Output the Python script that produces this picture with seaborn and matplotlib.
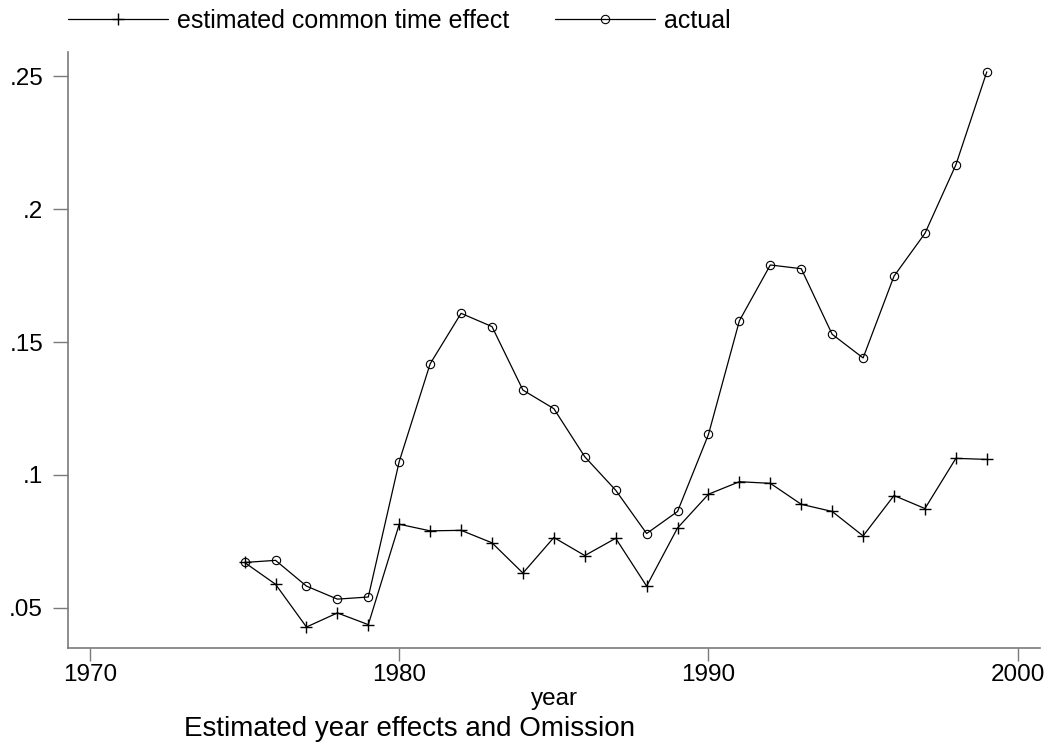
import matplotlib
matplotlib.use("Agg")
import matplotlib.pyplot as plt
import numpy as np
import pandas as pd
import seaborn as sns

AXIS_COLOR = "#7a7a7a"
LINE_COLOR = "black"

years = list(range(1975, 2000))
estimated = [
    0.0670, 0.0588, 0.0427, 0.0480, 0.0436,
    0.0814, 0.0789, 0.0791, 0.0744, 0.0630,
    0.0764, 0.0696, 0.0761, 0.0581, 0.0800,
    0.0927, 0.0974, 0.0968, 0.0889, 0.0862,
    0.0770, 0.0922, 0.0873, 0.1062, 0.1058,
]
actual = [
    0.0670, 0.0678, 0.0581, 0.0532, 0.0540,
    0.1050, 0.1418, 0.1608, 0.1558, 0.1319,
    0.1249, 0.1068, 0.0942, 0.0779, 0.0862,
    0.1152, 0.1580, 0.1790, 0.1776, 0.1529,
    0.1440, 0.1748, 0.1909, 0.2167, 0.2517,
]
x_ticks = [1970, 1980, 1990, 2000]
y_ticks = [0.05, 0.10, 0.15, 0.20, 0.25]
y_tick_labels = [".05", ".1", ".15", ".2", ".25"]

df = pd.DataFrame({"year": years, "estimated": estimated, "actual": actual})

sns.set_style("white")
plt.rcParams["font.family"] = ["Liberation Sans", "DejaVu Sans"]
plt.rcParams["text.color"] = "black"
plt.rcParams["axes.labelcolor"] = "black"

fig = plt.figure(figsize=(10.45, 7.49), dpi=100)
ax = fig.add_axes([0.0651, 0.1352, 0.9301, 0.7958])

sns.lineplot(
    data=df, x="year", y="estimated", ax=ax, color=LINE_COLOR,
    linewidth=0.9, marker="+", markersize=8, markeredgewidth=1.0,
    markeredgecolor=LINE_COLOR, label="estimated common time effect",
)
sns.lineplot(
    data=df, x="year", y="actual", ax=ax, color=LINE_COLOR,
    linewidth=0.9, marker="o", markersize=6, markerfacecolor="none",
    markeredgecolor=LINE_COLOR, markeredgewidth=0.8, label="actual",
)

ax.set_xlim(1969.29, 2000.72)
ax.set_ylim(0.0349, 0.2593)
ax.set_xticks(x_ticks)
ax.set_yticks(y_ticks)
ax.set_yticklabels(y_tick_labels)

for side in ["top", "right"]:
    ax.spines[side].set_visible(False)
for side in ["left", "bottom"]:
    ax.spines[side].set_color(AXIS_COLOR)
    ax.spines[side].set_linewidth(1.2)

ax.tick_params(axis="x", bottom=True, direction="out", length=9, width=1,
               colors=AXIS_COLOR, labelcolor="black", labelsize=17.5, pad=3)
ax.tick_params(axis="y", left=True, direction="out", length=11, width=1,
               colors=AXIS_COLOR, labelcolor="black", labelsize=17.5, pad=7)

ax.set_xlabel("year", fontsize=17.5, labelpad=1)
ax.set_ylabel("")

handles, labels = ax.get_legend_handles_labels()
ax.get_legend().remove()
fig.legend(
    handles, labels, loc="center left", bbox_to_anchor=(0.0651, 0.972),
    ncol=2, frameon=False, fontsize=18, handlelength=4.0, handletextpad=0.35,
    columnspacing=1.85, borderpad=0, borderaxespad=0, numpoints=1,
)

fig.text(0.392, 0.027, "Estimated year effects and Omission",
         ha="center", va="center", fontsize=20)

fig.savefig("out.png", dpi=100, facecolor="white")
